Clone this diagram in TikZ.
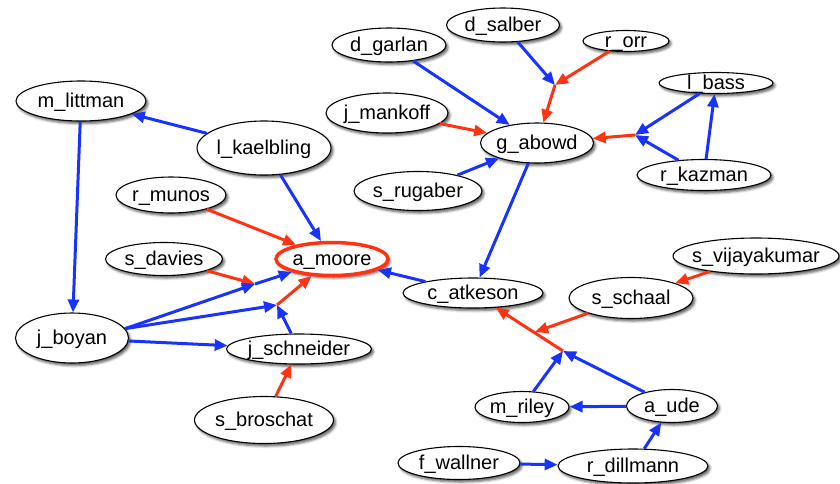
\documentclass[tikz,border=0pt]{standalone}
\usepackage{fontspec}
\setmainfont{Liberation Sans}
\usetikzlibrary{shapes.geometric, arrows.meta, shadows.blur}

\definecolor{linkblue}{RGB}{25,51,255}
\definecolor{linkred}{RGB}{255,51,17}

% label text is given no size of its own, so each ellipse keeps the size set for it
\newcommand{\nm}[1]{\raisebox{-0.33em}[0pt][0pt]{\makebox[0pt]{#1}}}

\tikzset{
  person/.style n args={2}{ellipse, draw=black, line width=1.1pt, fill=white,
    inner sep=0pt, minimum width=#1pt, minimum height=#2pt,
    font=\fontsize{20}{24}\selectfont,
    blur shadow={shadow xshift=2pt, shadow yshift=-2.5pt,
                 shadow blur radius=2.5pt, shadow opacity=65}},
  focus/.style={draw=linkred, line width=3.5pt},
  link/.style={line width=3pt, -{Triangle[length=13pt,width=11pt]}},
  bl/.style={link, draw=linkblue, fill=linkblue},
  rd/.style={link, draw=linkred, fill=linkred},
}

\begin{document}
\begin{tikzpicture}[x=1pt, y=-1pt]
\useasboundingbox (0,0) rectangle (840,483);

% people
\node[person={114}{34}] (garlan)   at (389,45)  {\nm{d\_garlan}};
\node[person={113}{34}] (salber)   at (503,25)  {\nm{d\_salber}};
\node[person={86}{21}]  (orr)      at (626,41)  {\nm{r\_orr}};
\node[person={114}{21}] (bass)     at (716,83)  {\nm{l\_bass}};
\node[person={113}{40}] (abowd)    at (537,143) {\nm{g\_abowd}};
\node[person={134}{31}] (kazman)   at (704,175) {\nm{r\_kazman}};
\node[person={130}{40}] (littman)  at (81,101)  {\nm{m\_littman}};
\node[person={134}{54}] (kaelbling) at (264,148) {\nm{l\_kaelbling}};
\node[person={122}{40}] (mankoff)  at (387,113) {\nm{j\_mankoff}};
\node[person={110}{36}] (munos)    at (171,195) {\nm{r\_munos}};
\node[person={128}{39}] (rugaber)  at (418,191) {\nm{s\_rugaber}};
\node[person={112}{33}, focus] (moore) at (332,259) {\nm{a\_moore}};
\node[person={117}{33}] (davies)   at (164,259) {\nm{s\_davies}};
\node[person={113}{50}] (boyan)    at (72,338)  {\nm{j\_boyan}};
\node[person={145}{30}] (schneider) at (299,349) {\nm{j\_schneider}};
\node[person={139}{47}] (broschat) at (264,420) {\nm{s\_broschat}};
\node[person={140}{30}] (atkeson)  at (473,293) {\nm{c\_atkeson}};
\node[person={166}{36}] (vijay)    at (756,256) {\nm{s\_vijayakumar}};
\node[person={124}{41}] (schaal)   at (631,298) {\nm{s\_schaal}};
\node[person={94}{31}]  (riley)    at (522,407) {\nm{m\_riley}};
\node[person={91}{33}]  (ude)      at (672,406) {\nm{a\_ude}};
\node[person={150}{34}] (dillmann) at (633,466) {\nm{r\_dillmann}};
\node[person={122}{33}] (wallner)  at (459,463) {\nm{f\_wallner}};

% meeting points of joint links
\coordinate (jdav)  at (255,284);
\coordinate (jsch)  at (277,305);
\coordinate (jorr)  at (555,85);
\coordinate (jbass) at (635,135);
\coordinate (jude)  at (563,351);
\coordinate (jsch2) at (535,332);

% single links
\draw[bl] (kaelbling) -- (littman);
\draw[bl] (littman) -- (boyan);
\draw[bl] (kaelbling) -- (moore);
\draw[rd] (munos) -- (moore);
\draw[bl] (boyan.-3) -- (schneider);
\draw[rd] (broschat) -- (schneider);
\draw[bl] (atkeson) -- (moore);
\draw[bl] (abowd) -- (atkeson);
\draw[bl] (garlan) -- (abowd);
\draw[rd] (mankoff) -- (abowd);
\draw[bl] (rugaber) -- (abowd);
\draw[bl] (kazman) -- (bass);
\draw[rd] (vijay) -- (schaal);
\draw[bl] (ude) -- (riley);
\draw[bl] (dillmann) -- (ude);
\draw[bl] (wallner) -- (dillmann);

% joint links
\draw[rd] (davies) -- (jdav);
\draw[bl] (boyan.10) -- (jdav);
\draw[bl] (jdav) -- (moore);

\draw[bl] (boyan.10) -- (jsch);
\draw[bl] (schneider) -- (jsch);
\draw[rd] (jsch) -- (moore);

\draw[bl] (salber) -- (jorr);
\draw[rd] (orr) -- (jorr);
\draw[rd] (jorr) -- (abowd);

\draw[bl] (bass) -- (jbass);
\draw[bl] (kazman) -- (jbass);
\draw[rd] (jbass) -- (abowd);

\draw[bl] (riley) -- (jude);
\draw[bl] (ude) -- (jude);
\draw[rd] (jude) -- (atkeson);
\draw[rd] (schaal) -- (jsch2);
\end{tikzpicture}
\end{document}
